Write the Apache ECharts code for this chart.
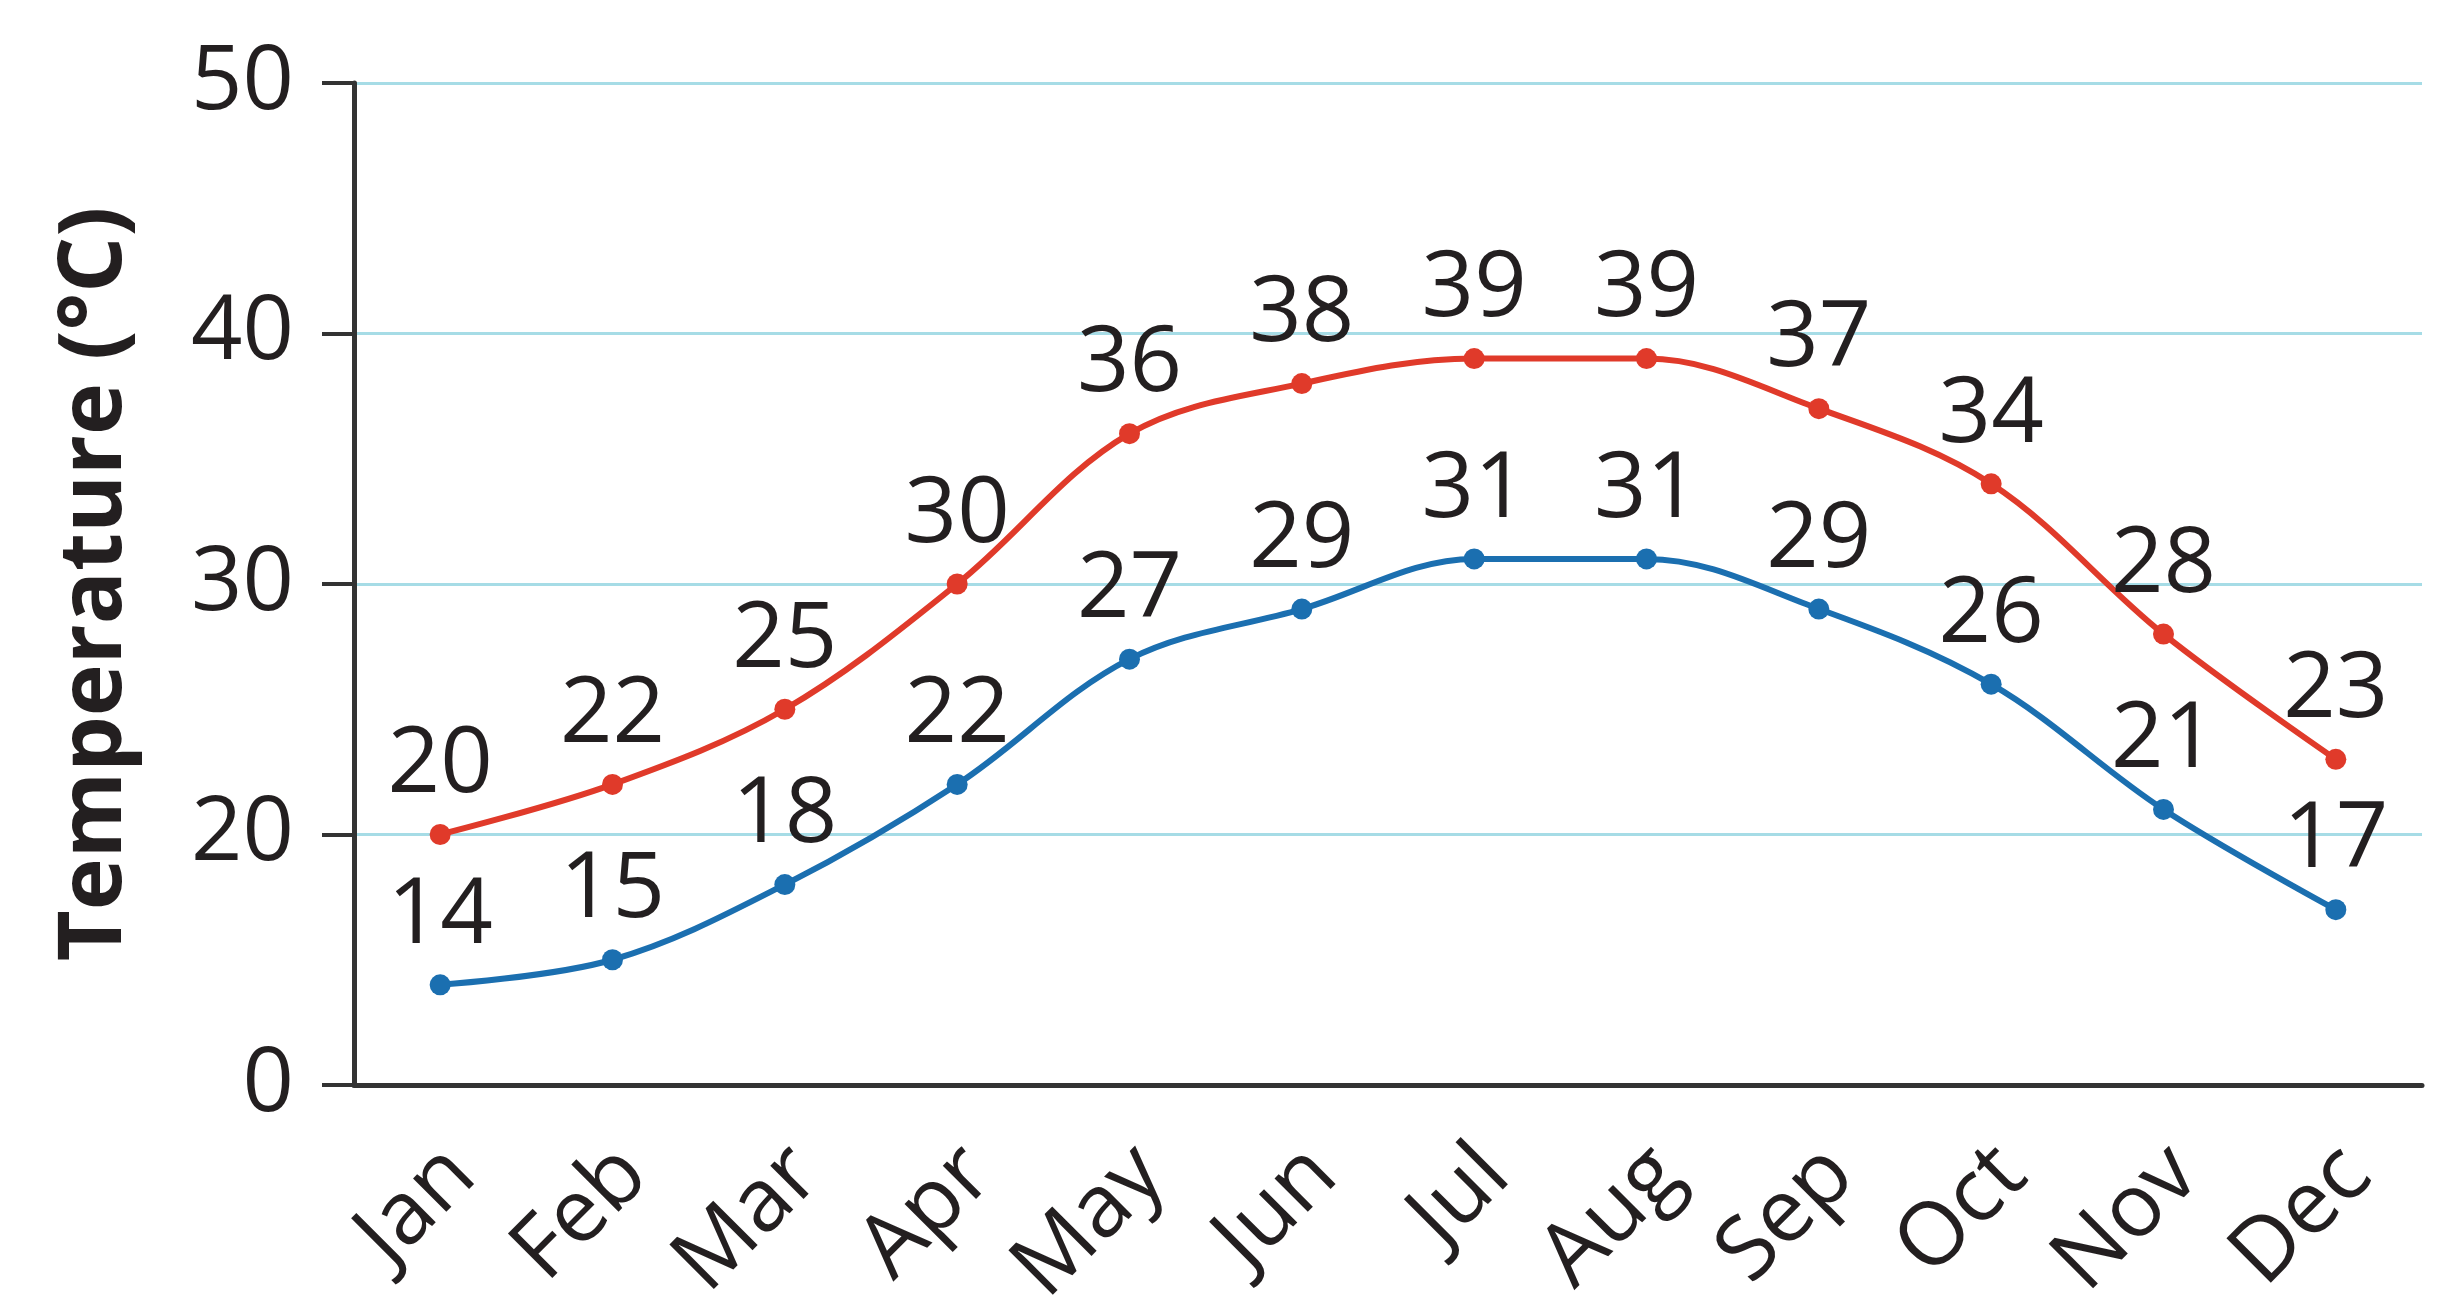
<!DOCTYPE html>
<html>
<head>
<meta charset="utf-8">
<script src="https://cdn.jsdelivr.net/npm/echarts@6/dist/echarts.min.js"></script>
<style>
  html, body { margin: 0; padding: 0; background: #fff; }
  #chart { width: 2458px; height: 1298px; }
</style>
</head>
<body>
<div id="chart"></div>
<script>
const months = ['Jan', 'Feb', 'Mar', 'Apr', 'May', 'Jun', 'Jul', 'Aug', 'Sep', 'Oct', 'Nov', 'Dec'];
const maxTemp = [20, 22, 25, 30, 36, 38, 39, 39, 37, 34, 28, 23];
const minTemp = [14, 15, 18, 22, 27, 29, 31, 31, 29, 26, 21, 17];

// axis is broken: bottom gridline is labelled 0
const yMin = 10;
const yMax = 50;

const font = '"Open Sans", "Noto Sans", sans-serif';
const textColor = '#231f20';

const chart = echarts.init(document.getElementById('chart'));

function lineSeries(name, data, color) {
    return {
        name: name,
        type: 'line',
        data: data,
        smooth: 0.35,
        symbol: 'circle',
        symbolSize: 21,
        lineStyle: { color: color, width: 6 },
        itemStyle: { color: color },
        label: {
            show: true,
            position: 'top',
            distance: 12,
            fontFamily: font,
            fontSize: 92,
            color: textColor
        },
        z: 3
    };
}

chart.setOption({
    animation: false,
    backgroundColor: '#fff',
    grid: { left: 354, right: 36, top: 83, bottom: 213, containLabel: false, outerBoundsMode: 'none' },
    xAxis: {
        type: 'category',
        data: months,
        boundaryGap: true,
        axisLine: { lineStyle: { color: '#333', width: 5 } },
        axisTick: { alignWithLabel: true, length: 28, lineStyle: { color: '#333', width: 4 } },
        axisLabel: {
            rotate: 45,
            margin: 55,
            verticalAlign: 'top',
            lineHeight: 60,
            fontFamily: font,
            fontSize: 88,
            color: textColor
        },
        splitLine: { show: false }
    },
    yAxis: {
        type: 'value',
        min: yMin,
        max: yMax,
        interval: 10,
        name: 'Temperature (°C)',
        nameLocation: 'middle',
        nameGap: 214,
        nameTextStyle: {
            fontFamily: font,
            fontWeight: 'bold',
            fontSize: 88,
            color: textColor
        },
        axisLine: { show: true, lineStyle: { color: '#333', width: 5 } },
        axisTick: { show: true, length: 32, lineStyle: { color: '#333', width: 4 } },
        axisLabel: {
            margin: 60,
            fontFamily: font,
            fontSize: 90,
            color: textColor,
            formatter: v => (v === yMin ? '0' : String(v))
        },
        splitLine: { lineStyle: { color: '#a6dce6', width: 3 } }
    },
    series: [
        lineSeries('Max', maxTemp, '#e03a2a'),
        lineSeries('Min', minTemp, '#1b6fb0')
    ]
});
</script>
</body>
</html>
